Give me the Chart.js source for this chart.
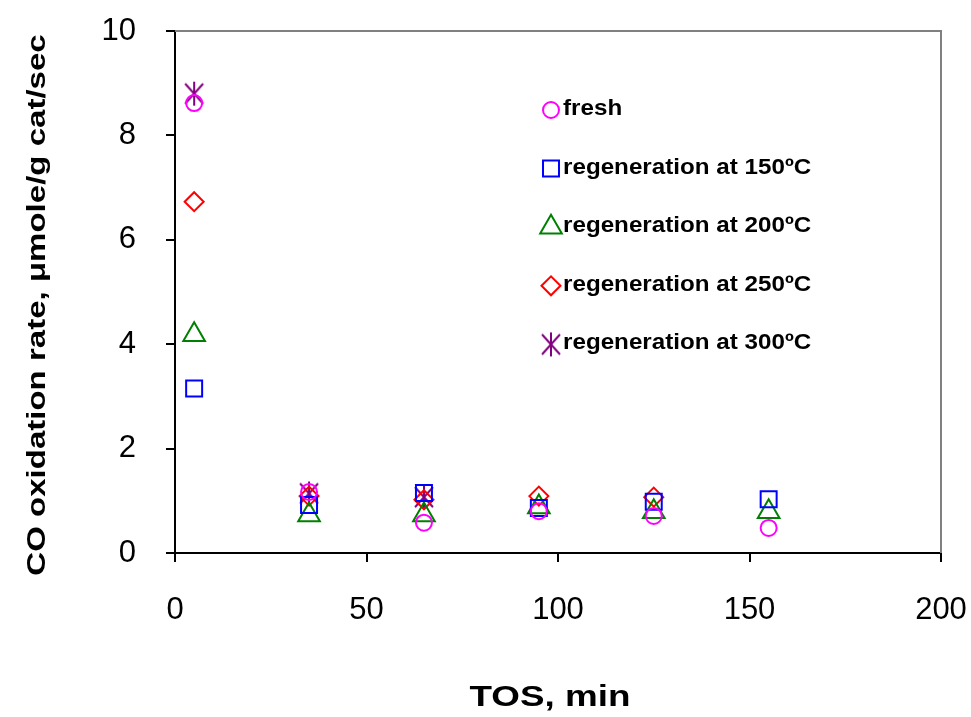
<!DOCTYPE html>
<html>
<head>
<meta charset="utf-8">
<script src="https://cdn.jsdelivr.net/npm/chart.js@4.4.0/dist/chart.umd.min.js"></script>
<style>
  html, body { margin: 0; padding: 0; background: #fff; }
  #wrap { width: 971px; height: 717px; }
</style>
</head>
<body>
<div id="wrap"><canvas id="rateChart" width="971" height="717"></canvas></div>
<script>
// time on stream, min
const tos = [5, 35, 65, 95, 125, 155];

// CO oxidation rate, umole/g cat/sec
const fresh = [8.62, 1.17, 0.58, 0.80, 0.71, 0.48];
const regen150 = [3.15, 0.92, 1.15, 0.86, 0.98, 1.03];
const regen200 = [4.18, 0.73, 0.73, 0.88, 0.79, 0.79];
const regen250 = [6.73, 1.09, 1.02, 1.09, 1.07];
const regen300 = [8.80, 1.14, 1.07];

const seriesNames = [
    'fresh',
    'regeneration at 150ºC',
    'regeneration at 200ºC',
    'regeneration at 250ºC',
    'regeneration at 300ºC'
];

const xTicks = [0, 50, 100, 150, 200];
const yTicks = [0, 2, 4, 6, 8, 10];

const FONT = "'Liberation Sans', Arial, Helvetica, sans-serif";

// Excel-style asterisk: vertical bar plus an X
function makeStar(color) {
    const c = document.createElement('canvas');
    c.width = 22;
    c.height = 26;
    const g = c.getContext('2d');
    g.strokeStyle = color;
    g.lineWidth = 2;
    g.beginPath();
    g.moveTo(11, 1); g.lineTo(11, 25);
    g.moveTo(2, 3); g.lineTo(20, 23);
    g.moveTo(20, 3); g.lineTo(2, 23);
    g.stroke();
    return c;
}

function toPoints(values) {
    return values.map((v, i) => ({ x: tos[i], y: v }));
}

function series(idx, values, color, style, radius) {
    return {
        label: seriesNames[idx],
        data: toPoints(values),
        pointStyle: style,
        pointRadius: radius,
        pointHoverRadius: radius,
        borderColor: color,
        backgroundColor: 'rgba(0,0,0,0)',
        pointBorderWidth: 2,
        showLine: false,
        clip: false
    };
}

// gray top/right frame around the plot
const plotFrame = {
    id: 'plotFrame',
    beforeDatasetsDraw(chart) {
        const { ctx, chartArea: a } = chart;
        ctx.save();
        ctx.strokeStyle = '#808080';
        ctx.lineWidth = 2;
        ctx.beginPath();
        ctx.moveTo(a.left, a.top);
        ctx.lineTo(a.right, a.top);
        ctx.lineTo(a.right, a.bottom);
        ctx.stroke();
        ctx.restore();
    }
};

function stretchedText(ctx, text, x, y, sx, angle) {
    ctx.save();
    ctx.translate(x, y);
    if (angle) ctx.rotate(angle);
    ctx.scale(sx, 1);
    ctx.fillText(text, 0, 0);
    ctx.restore();
}

// axis titles and the legend sitting inside the plot
const chartText = {
    id: 'chartText',
    afterDraw(chart) {
        const ctx = chart.ctx;
        ctx.save();
        ctx.fillStyle = '#000';
        ctx.textBaseline = 'alphabetic';

        ctx.font = 'bold 29px ' + FONT;
        ctx.textAlign = 'center';
        stretchedText(ctx, 'TOS, min', 550, 706, 1.27, 0);

        ctx.font = 'bold 26px ' + FONT;
        stretchedText(ctx, 'CO oxidation rate, \u03bcmole/g cat/sec', 45, 305, 1.27, -Math.PI / 2);

        ctx.font = 'bold 22px ' + FONT;
        ctx.textAlign = 'left';
        chart.data.datasets.forEach((ds, i) => {
            const base = 115 + i * 58.6;
            ctx.save();
            ctx.strokeStyle = ds.borderColor;
            ctx.fillStyle = 'rgba(0,0,0,0)';
            ctx.lineWidth = 2;
            Chart.helpers.drawPoint(ctx, {
                pointStyle: ds.pointStyle,
                radius: ds.pointRadius,
                borderWidth: 2,
                rotation: 0
            }, 551, base - 5);
            ctx.restore();
            stretchedText(ctx, ds.label, 563, base, 1.1, 0);
        });
        ctx.restore();
    }
};

function axisOptions(ticks, min, max, fitSide, fitSize) {
    return {
        type: 'linear',
        min: min,
        max: max,
        afterBuildTicks: s => { s.ticks = ticks.map(v => ({ value: v })); },
        afterFit: s => {
            s[fitSide] = fitSize;
            // labels may overhang the plot; the layout padding handles that
            s.paddingTop = s.paddingBottom = s.paddingLeft = s.paddingRight = 0;
        },
        ticks: {
            color: '#000',
            font: { family: FONT, size: 31 },
            padding: 30
        },
        grid: {
            drawOnChartArea: false,
            color: '#000',
            lineWidth: 2,
            tickLength: 9
        },
        border: { color: '#000', width: 2 }
    };
}

function initChart() {
    const ctx = document.getElementById('rateChart').getContext('2d');
    new Chart(ctx, {
        type: 'scatter',
        data: {
            datasets: [
                series(0, fresh, '#ff00ff', 'circle', 8),
                series(1, regen150, '#0000ff', 'rect', 11.3),
                series(2, regen200, '#008000', 'triangle', 12.5),
                series(3, regen250, '#ff0000', 'rectRot', 9.5),
                series(4, regen300, '#800080', makeStar('#800080'), 11)
            ]
        },
        options: {
            responsive: false,
            animation: false,
            devicePixelRatio: 1,
            layout: { padding: { top: 31, right: 30, left: 0, bottom: 0 } },
            scales: {
                x: axisOptions(xTicks, 0, 200, 'height', 164),
                y: axisOptions(yTicks, 0, 10, 'width', 175)
            },
            plugins: {
                legend: { display: false },
                tooltip: { enabled: false }
            }
        },
        plugins: [plotFrame, chartText]
    });
}

initChart();
</script>
</body>
</html>
